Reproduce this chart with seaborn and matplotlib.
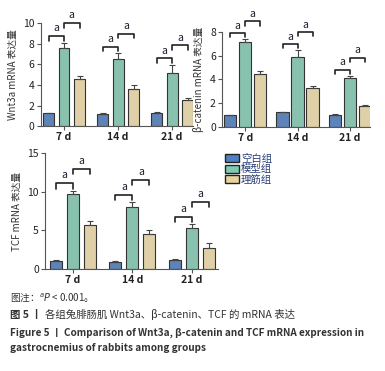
import numpy as np
import pandas as pd
import seaborn as sns
import matplotlib.pyplot as plt
from matplotlib.patches import Patch

days = ['7 d', '14 d', '21 d']
groups = ['空白组', '模型组', '理筋组']
colors = ['#4f80c6', '#7fcbb2', '#e8d49e']

# Wnt3a
wnt3a_blank = [1.23, 1.13, 1.26]
wnt3a_model = [7.55, 6.47, 5.12]
wnt3a_treat = [4.53, 3.56, 2.52]
wnt3a_blank_err = [0.08, 0.15, 0.09]
wnt3a_model_err = [0.55, 0.58, 0.8]
wnt3a_treat_err = [0.3, 0.45, 0.23]

# beta-catenin
bcat_blank = [1.0, 1.25, 1.0]
bcat_model = [7.12, 5.92, 4.14]
bcat_treat = [4.45, 3.25, 1.76]
bcat_blank_err = [0.04, 0.04, 0.05]
bcat_model_err = [0.25, 0.55, 0.17]
bcat_treat_err = [0.28, 0.2, 0.06]

# TCF
tcf_blank = [1.03, 0.86, 1.16]
tcf_model = [9.66, 7.98, 5.27]
tcf_treat = [5.69, 4.57, 2.68]
tcf_blank_err = [0.12, 0.14, 0.11]
tcf_model_err = [0.43, 0.65, 0.53]
tcf_treat_err = [0.56, 0.48, 0.62]


def make_df(blank, model, treat):
    return pd.DataFrame({
        'day': days * 3,
        'group': [groups[0]] * 3 + [groups[1]] * 3 + [groups[2]] * 3,
        'value': list(blank) + list(model) + list(treat),
    })


sns.set_style('ticks')
plt.rcParams['font.family'] = ['Noto Sans CJK SC', 'DejaVu Sans']
plt.rcParams['axes.edgecolor'] = '#555555'
plt.rcParams['axes.linewidth'] = 0.8
plt.rcParams['xtick.color'] = '#555555'
plt.rcParams['ytick.color'] = '#555555'
plt.rcParams['xtick.labelcolor'] = '#222222'
plt.rcParams['ytick.labelcolor'] = '#222222'

fig = plt.figure(figsize=(3.85, 3.71), dpi=100)


def panel(rect, blank, model, treat, errs, ymax, yticks, ylabel, xlim, gap):
    ax = fig.add_axes(rect)
    df = make_df(blank, model, treat)
    sns.barplot(data=df, x='day', y='value', hue='group', hue_order=groups,
                palette=colors, errorbar=None, width=0.86, gap=gap,
                edgecolor='#333333', linewidth=0.8, legend=False, ax=ax)
    centers = []
    for cont, err in zip(ax.containers, errs):
        xs = [p.get_x() + p.get_width() / 2 for p in cont]
        hs = [p.get_height() for p in cont]
        centers.append(xs)
        ax.errorbar(xs, hs, yerr=[np.zeros(3), err], fmt='none',
                    ecolor='#444444', elinewidth=0.8, capsize=2, capthick=0.8)
    # significance brackets
    tick = 0.045 * ymax
    for i in range(3):
        b1 = model[i] + errs[1][i] + 0.065 * ymax
        b2 = b1 + 0.125 * ymax
        for (xa, xb, yb) in [(centers[0][i], centers[1][i], b1),
                             (centers[1][i], centers[2][i], b2)]:
            ax.plot([xa, xa, xb, xb], [yb - tick, yb, yb, yb - tick],
                    color='#222222', lw=1.2, clip_on=False)
            ax.text((xa + xb) / 2, yb + 0.025 * ymax, 'a', ha='center',
                    va='bottom', fontsize=7.5, color='#1a1a2e')
    ax.set_ylim(0, ymax)
    ax.set_yticks(yticks)
    ax.set_xlim(*xlim)
    ax.set_xlabel('')
    ax.set_ylabel(ylabel, fontsize=7, color='#333333', labelpad=4)
    ax.tick_params(axis='y', labelsize=7.5, length=3, width=0.8, pad=1.5)
    ax.tick_params(axis='x', labelsize=7.5, length=3, width=0.8, pad=1.5)
    for lab in ax.get_xticklabels():
        lab.set_fontweight('bold')
    sns.despine(ax=ax)
    return ax


panel([0.106, 0.660, 0.396, 0.278], wnt3a_blank, wnt3a_model, wnt3a_treat,
      [wnt3a_blank_err, wnt3a_model_err, wnt3a_treat_err], 10,
      [0, 2, 4, 6, 8, 10], 'Wnt3a mRNA 表达量', (-0.43, 2.39), 0.3)
panel([0.577, 0.658, 0.384, 0.256], bcat_blank, bcat_model, bcat_treat,
      [bcat_blank_err, bcat_model_err, bcat_treat_err], 8,
      [0, 2, 4, 6, 8], 'β-catenin mRNA 表达量', (-0.44, 2.38), 0.17)
panel([0.117, 0.275, 0.449, 0.313], tcf_blank, tcf_model, tcf_treat,
      [tcf_blank_err, tcf_model_err, tcf_treat_err], 15,
      [0, 5, 10, 15], 'TCF mRNA 表达量', (-0.47, 2.44), 0.3)

# legend
handles = [Patch(facecolor=c, edgecolor='#222222', linewidth=1.0) for c in colors]
fig.legend(handles, groups, loc='upper left', bbox_to_anchor=(0.572, 0.600),
           frameon=False, fontsize=7.5, handlelength=1.3, handleheight=0.8,
           handletextpad=0.2, labelspacing=0.05, borderpad=0,
           labelcolor='#2a3f7a')

# captions
fig.text(0.026, 0.199, '图注：$^{a}\\mathit{P}$ < 0.001。', fontsize=7,
         color='#333333', va='center')
fig.text(0.026, 0.151, '图 5 丨', fontsize=7.5, fontweight='bold',
         color='#333333', va='center')
fig.text(0.118, 0.151, '各组兔腓肠肌 Wnt3a、β-catenin、TCF 的 mRNA 表达',
         fontsize=7.5, color='#333333', va='center')
fig.text(0.026, 0.102,
         'Figure 5 丨 Comparison of Wnt3a, β-catenin and TCF mRNA expression in',
         fontsize=7.2, fontweight='bold', color='#333333', va='center')
fig.text(0.026, 0.062, 'gastrocnemius of rabbits among groups',
         fontsize=7.2, fontweight='bold', color='#333333', va='center')

fig.savefig('out.png', dpi=100)
